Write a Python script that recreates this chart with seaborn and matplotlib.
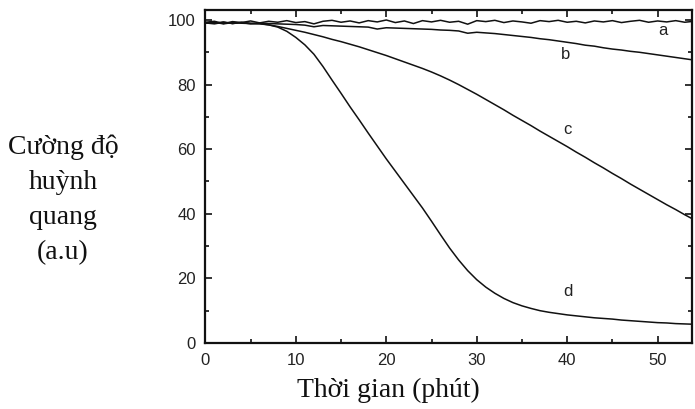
import numpy as np
import pandas as pd
import matplotlib
matplotlib.use("Agg")
import matplotlib.pyplot as plt
from matplotlib.ticker import MultipleLocator
import seaborn as sns

# thoi gian (phut), moi phut mot diem
thoi_gian = np.arange(0, 55)

# duong a: gan nhu khong doi, co nhieu
cuong_do_a = [99.3, 99.6, 98.9, 99.5, 99.2,
              99.7, 99.1, 99.6, 99.3, 99.8,
              99.2, 99.5, 98.8, 99.6, 99.9,
              99.3, 99.7, 99.1, 99.8, 99.4,
              100.0, 99.2, 99.7, 98.9, 99.8,
              99.4, 99.9, 99.3, 99.6, 98.7,
              99.8, 99.5, 99.9, 99.2, 99.7,
              99.4, 99.0, 99.8, 99.5, 99.9,
              99.3, 99.6, 99.1, 99.7, 99.4,
              99.8, 99.2, 99.6, 99.9, 99.3,
              99.7, 99.4, 99.8, 99.3, 99.6]

# duong b: giam cham
cuong_do_b = [99.1, 98.8, 99.3, 98.9, 99.2,
              98.8, 99.0, 98.9, 98.8, 98.7,
              98.6, 98.4, 97.9, 98.3, 98.2,
              98.1, 98.0, 97.9, 97.8, 97.2,
              97.6, 97.5, 97.4, 97.3, 97.2,
              97.1, 96.9, 96.8, 96.6, 95.9,
              96.2, 96.0, 95.8, 95.5, 95.2,
              94.9, 94.6, 94.2, 93.9, 93.5,
              93.1, 92.7, 92.2, 91.9, 91.4,
              91.0, 90.7, 90.3, 90.0, 89.6,
              89.2, 88.8, 88.4, 88.0, 87.6]

# duong c
cuong_do_c = [99.0, 99.3, 98.8, 99.2, 99.0,
              98.9, 98.8, 98.5, 98.0, 97.4,
              96.8, 96.2, 95.5, 94.8, 94.0,
              93.3, 92.5, 91.7, 90.8, 89.9,
              89.0, 88.0, 87.0, 86.0, 85.0,
              83.9, 82.7, 81.4, 80.0, 78.5,
              77.0, 75.4, 73.8, 72.2, 70.5,
              68.9, 67.3, 65.6, 64.0, 62.4,
              60.8, 59.1, 57.5, 55.8, 54.2,
              52.5, 50.9, 49.2, 47.6, 46.0,
              44.4, 42.8, 41.3, 39.7, 38.2]

# duong d: giam nhanh
cuong_do_d = [99.2, 99.0, 99.4, 98.9, 99.3,
              99.0, 98.9, 98.5, 97.8, 96.5,
              94.6, 92.3, 89.4, 85.6, 81.4,
              77.3, 73.1, 69.1, 65.0, 61.0,
              57.0, 53.2, 49.4, 45.6, 41.8,
              37.7, 33.5, 29.4, 25.7, 22.4,
              19.6, 17.3, 15.4, 13.8, 12.5,
              11.5, 10.7, 10.0, 9.5, 9.1,
              8.7, 8.4, 8.1, 7.8, 7.6,
              7.4, 7.1, 6.9, 6.7, 6.5,
              6.3, 6.2, 6.0, 5.9, 5.8]

ten_duong = ["a", "b", "c", "d"]
vi_tri_nhan = {"a": (50.6, 96.6), "b": (39.8, 89.2), "c": (40.0, 66.0), "d": (40.1, 15.8)}

df = pd.DataFrame({
    "t": np.tile(thoi_gian, 4),
    "I": cuong_do_a + cuong_do_b + cuong_do_c + cuong_do_d,
    "duong": np.repeat(ten_duong, len(thoi_gian)),
})

sns.set_style("ticks")
plt.rcParams["font.family"] = ["Liberation Sans", "DejaVu Sans"]

fig = plt.figure(figsize=(6.95, 4.09), dpi=100)
ax = fig.add_axes([0.2955, 0.1614, 0.7002, 0.8142])

sns.lineplot(data=df, x="t", y="I", hue="duong", palette=["#111111"] * 4,
             linewidth=1.1, legend=False, ax=ax)

for ten, (x, y) in vi_tri_nhan.items():
    ax.text(x, y, ten, fontsize=12, ha="center", va="center", color="#222222")

ax.set_xlim(0, 53.8)
ax.set_ylim(0, 103.1)
ax.xaxis.set_major_locator(MultipleLocator(10))
ax.xaxis.set_minor_locator(MultipleLocator(5))
ax.yaxis.set_major_locator(MultipleLocator(20))
ax.yaxis.set_minor_locator(MultipleLocator(10))
ax.tick_params(which="both", direction="in", top=True, right=True, width=1.2,
               labelsize=12, colors="#111111", labelcolor="#222222")
ax.tick_params(which="major", length=5, pad=7)
ax.tick_params(which="minor", length=3)
for s in ax.spines.values():
    s.set_linewidth(1.6)
    s.set_color("#111111")
ax.set_xlabel("")
ax.set_ylabel("")

fig.text(63 / 695, 1 - 200 / 409, "Cường độ\nhuỳnh\nquang\n(a.u)",
         family="Liberation Serif", fontsize=20, ha="center", va="center",
         multialignment="center", linespacing=1.52, color="#111111")
fig.text(388 / 695, 1 - 390 / 409, "Thời gian (phút)",
         family="Liberation Serif", fontsize=20, ha="center", va="center",
         color="#111111")

fig.savefig("out.png", dpi=100)
